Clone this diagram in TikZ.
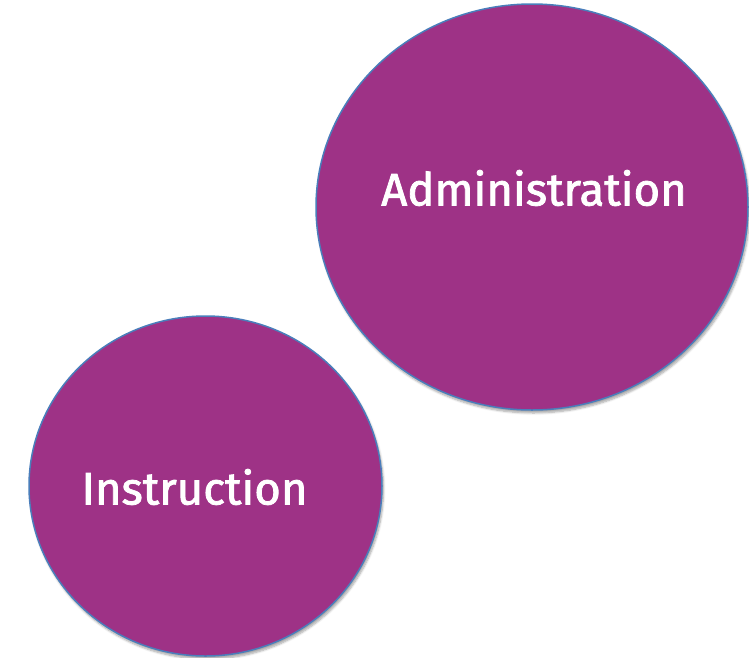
\documentclass[tikz,border=0pt]{standalone}
\usepackage{fontspec}
\setmainfont{Fira Sans}
\newfontfamily\labelfont{Fira Sans}[FakeBold=1.8]
\usetikzlibrary{shapes.geometric,shadows.blur}
\definecolor{plum}{HTML}{9E3286}
\definecolor{rim}{HTML}{4A7EBB}
\tikzset{
  bubble/.style={ellipse, fill=plum, draw=rim, line width=1.5pt, inner sep=0pt,
    blur shadow={shadow xshift=1.5pt, shadow yshift=-3pt, shadow blur steps=6, shadow opacity=35}},
  label/.style={text=white, font=\labelfont\fontsize{45.5}{50}\selectfont}
}
\begin{document}
\begin{tikzpicture}[x=1pt,y=-1pt]
\useasboundingbox (0,0) rectangle (749,657);
\node[bubble, minimum width=432pt, minimum height=406pt] (admin) at (532,207) {};
\node[bubble, minimum width=353pt, minimum height=340pt] (instr) at (205.5,486) {};
\node[label] (admintext) at (534,188) {Administration};
\node[label] (instrtext) at (194.5,487) {Instruction};
\end{tikzpicture}
\end{document}
